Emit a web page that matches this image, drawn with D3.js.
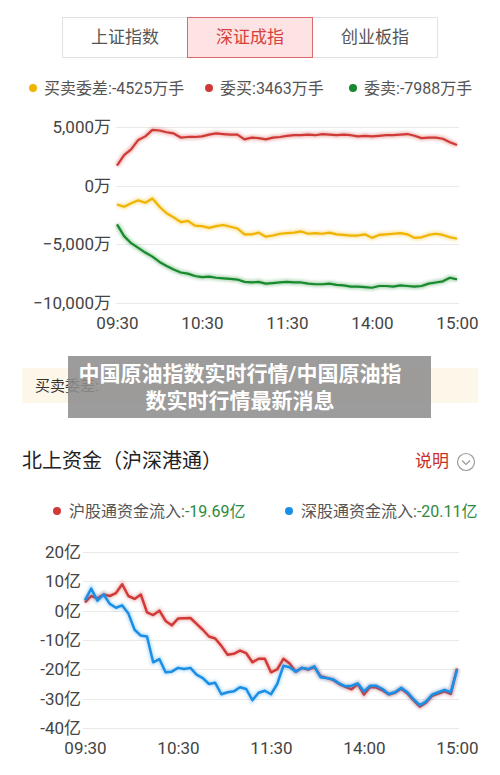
<!DOCTYPE html>
<html>
<head>
<meta charset="utf-8">
<script src="https://cdn.jsdelivr.net/npm/d3@7"></script>
<style>
  body { margin: 0; background: #fff; }
  text { font-family: Roboto, "Noto Sans CJK SC", sans-serif; }
</style>
</head>
<body>
<div id="chart"></div>
<script>
// tabs + legends
var tabNames = ["上证指数", "深证成指", "创业板指"];
var topNames = ["买卖委差", "委买", "委卖"];
var topLegendValues = ["-4525万手", "3463万手", "-7988万手"];
var topColors = ["#f0b400", "#d03a36", "#168a2c"];

var timeLabels = ["09:30", "10:30", "11:30", "14:00", "15:00"];
var tickMinutes = [0, 60, 120, 180, 240];

// top chart, one value every 5 minutes (万)
var topStep = 5;
var diffVals = [-1600,-1800,-1500,-1250,-1450,-1100,-1800,-2350,-2700,-3100,-3000,-3400,-3450,-3600,-3450,-3350,-3500,-3650,-4150,-4150,-4000,-4350,-4250,-4100,-4050,-4000,-3900,-4100,-4050,-4100,-4000,-4150,-4200,-4250,-4250,-4150,-4450,-4200,-4150,-4100,-4050,-4150,-4450,-4400,-4200,-4100,-4200,-4400,-4525];
var buyVals = [1700,2600,3100,3900,4200,4750,4700,4550,4450,4100,4150,4150,4200,4350,4450,4400,4350,4350,3950,4100,4050,3950,4100,4150,4250,4300,4300,4350,4300,4400,4350,4300,4350,4300,4200,4250,4200,4250,4300,4300,4350,4400,4250,4050,4100,4100,4000,3700,3463];
var sellVals = [-3300,-4300,-4900,-5300,-5700,-6050,-6500,-6850,-7150,-7400,-7500,-7700,-7800,-7750,-7850,-7900,-7950,-8000,-8200,-8250,-8200,-8350,-8300,-8250,-8200,-8250,-8250,-8350,-8400,-8400,-8350,-8450,-8500,-8600,-8600,-8650,-8700,-8550,-8550,-8600,-8500,-8550,-8600,-8550,-8350,-8250,-8150,-7850,-7988];
var topTicks = [5000, 0, -5000, -10000];

// bottom chart, one value every 4 minutes (亿)
var botNames = ["沪股通资金流入:", "深股通资金流入:"];
var botLegendValues = ["-19.69亿", "-20.11亿"];
var botColors = ["#d23a37", "#1a8fe6"];
var botStep = 4;
var shVals = [2.8,5.0,4.2,5.5,5.0,6.0,9.0,5.0,4.0,5.5,-0.6,-1.5,0.0,-3.5,-5.0,-2.7,-2.6,-2.5,-4.5,-6.5,-8.8,-9.5,-12.0,-15.0,-14.7,-13.6,-14.5,-17.6,-16.4,-16.4,-21.0,-20.0,-16.4,-18.0,-20.8,-19.5,-20.1,-19.2,-22.3,-22.9,-23.6,-25.0,-26.0,-26.8,-25.0,-28.6,-26.0,-26.2,-27.2,-28.6,-28.0,-26.6,-28.2,-30.6,-32.7,-31.4,-29.0,-28.3,-27.5,-28.4,-19.69];
var szVals = [3.5,7.5,3.4,5.5,2.3,1.0,1.8,-1.0,-6.5,-8.5,-8.8,-17.6,-16.5,-21.0,-20.8,-19.5,-19.9,-19.5,-21.8,-23.0,-25.0,-24.6,-28.5,-27.8,-27.5,-26.1,-26.7,-30.5,-28.0,-27.3,-28.5,-25.0,-18.8,-19.3,-20.8,-19.5,-19.9,-19.0,-22.7,-23.0,-23.4,-24.8,-25.8,-25.6,-24.8,-27.5,-25.6,-25.6,-26.7,-28.4,-27.8,-26.3,-27.8,-30.2,-32.2,-31.0,-28.6,-27.8,-27.0,-27.8,-20.11];
var botTicks = [20, 10, 0, -10, -20, -30, -40];

var svg = d3.select("#chart").append("svg")
    .attr("width", 500)
    .attr("height", 775);

var defs = svg.append("defs");
defs.append("filter").attr("id", "glow")
    .attr("x", "-5%").attr("y", "-20%").attr("width", "110%").attr("height", "140%")
  .append("feGaussianBlur").attr("stdDeviation", 1.8);

// ---- tabs ----
var tabW = 125;
svg.append("rect")
    .attr("x", 62.5).attr("y", 17.5).attr("width", tabW * 3).attr("height", 40)
    .attr("fill", "#fff").attr("stroke", "#e2e2e2");
tabNames.forEach(function (t, i) {
  var x0 = 62.5 + i * tabW;
  if (i == 1) {
    svg.append("rect")
        .attr("x", x0).attr("y", 17.5).attr("width", tabW).attr("height", 40)
        .attr("fill", "#fde3e3").attr("stroke", "#df6a6a");
  }
  svg.append("text")
      .attr("x", x0 + tabW / 2).attr("y", 43)
      .attr("text-anchor", "middle")
      .style("font-size", "17px")
      .attr("fill", i == 1 ? "#d8403c" : "#555")
      .text(t);
});

// ---- top legend ----
var topLegX = [33, 209, 353];
topNames.forEach(function (n, i) {
  svg.append("circle").attr("cx", topLegX[i]).attr("cy", 88).attr("r", 4).attr("fill", topColors[i]);
  svg.append("text").attr("x", topLegX[i] + 11).attr("y", 94)
      .style("font-size", "16px").attr("fill", "#555")
      .text(n + ":" + topLegendValues[i]);
});

// ---- top chart ----
var xTop = d3.scaleLinear().domain([0, 240]).range([117, 457]);
var yTop = d3.scaleLinear().domain([-10000, 5000]).range([303, 127]);

var gTopGrid = svg.append("g");
gTopGrid.selectAll("line").data(topTicks).enter().append("line")
    .attr("x1", 116).attr("x2", 459)
    .attr("y1", function (d) { return Math.round(yTop(d)) + 0.5; })
    .attr("y2", function (d) { return Math.round(yTop(d)) + 0.5; })
    .attr("stroke", "#e9e9e9");

var yAxisTop = svg.append("g")
    .attr("transform", "translate(111,0)")
    .call(d3.axisLeft(yTop).tickValues(topTicks).tickSize(0).tickPadding(0)
      .tickFormat(function (d) { return d3.format(",")(d) + "万"; }));
yAxisTop.select(".domain").remove();
yAxisTop.selectAll("text").style("font-size", "17px").attr("fill", "#444").style("font-family", "Roboto, 'Noto Sans CJK SC', sans-serif");

var xAxisTop = svg.append("g")
    .attr("transform", "translate(0,303)")
    .call(d3.axisBottom(xTop).tickValues(tickMinutes).tickSize(0).tickPadding(14)
      .tickFormat(function (d, i) { return timeLabels[i]; }));
xAxisTop.select(".domain").remove();
xAxisTop.selectAll("text").style("font-size", "17px").attr("fill", "#444").style("font-family", "Roboto, 'Noto Sans CJK SC', sans-serif");

var topLine = d3.line()
    .x(function (d, i) { return xTop(i * topStep); })
    .y(function (d) { return yTop(d); });

[diffVals, buyVals, sellVals].forEach(function (vals, i) {
  svg.append("path").datum(vals)
      .attr("d", topLine).attr("fill", "none")
      .attr("stroke", topColors[i]).attr("stroke-width", 5).attr("opacity", 0.35)
      .attr("filter", "url(#glow)");
  svg.append("path").datum(vals)
      .attr("d", topLine).attr("fill", "none")
      .attr("stroke", topColors[i]).attr("stroke-width", 2.2)
      .attr("stroke-linejoin", "round");
});

// ---- faded row + overlay banner ----
svg.append("rect").attr("x", 22).attr("y", 368).attr("width", 456).attr("height", 35).attr("fill", "#fdf7e9");
svg.append("text").attr("x", 35).attr("y", 391).style("font-size", "15px").attr("fill", "#333").text("买卖委差:");
svg.append("rect").attr("x", 68).attr("y", 356).attr("width", 363).attr("height", 62).attr("fill", "#8e8e8e").attr("opacity", 0.88);
var bannerLines = ["中国原油指数实时行情/中国原油指", "数实时行情最新消息"];
bannerLines.forEach(function (t, i) {
  svg.append("text").attr("x", 240).attr("y", 381 + i * 27)
      .attr("text-anchor", "middle")
      .style("font-size", "21px").style("font-weight", "bold")
      .attr("fill", "#fff").text(t);
});

// ---- bottom header ----
svg.append("text").attr("x", 22).attr("y", 468)
    .style("font-size", "20px").attr("fill", "#222").text("北上资金（沪深港通）");
svg.append("text").attr("x", 415).attr("y", 467)
    .style("font-size", "17px").attr("fill", "#c9302c").text("说明");
svg.append("circle").attr("cx", 466).attr("cy", 462).attr("r", 8.5)
    .attr("fill", "none").attr("stroke", "#9a9a9a").attr("stroke-width", 1.2);
svg.append("path").attr("d", "M462,460.5 L466,464.5 L470,460.5")
    .attr("fill", "none").attr("stroke", "#9a9a9a").attr("stroke-width", 1.2);

// ---- bottom legend ----
var botLegX = [57, 289];
botNames.forEach(function (n, i) {
  svg.append("circle").attr("cx", botLegX[i]).attr("cy", 511).attr("r", 4).attr("fill", botColors[i]);
  var t = svg.append("text").attr("x", botLegX[i] + 12).attr("y", 517).style("font-size", "16px");
  t.append("tspan").attr("fill", "#555").text(n);
  t.append("tspan").attr("fill", "#2f8a3c").text(botLegendValues[i]);
});

// ---- bottom chart ----
var xBot = d3.scaleLinear().domain([0, 240]).range([85, 457]);
var yBot = d3.scaleLinear().domain([-40, 20]).range([728, 552]);

svg.append("g").selectAll("line").data(botTicks).enter().append("line")
    .attr("x1", 83).attr("x2", 459)
    .attr("y1", function (d) { return Math.round(yBot(d)) + 0.5; })
    .attr("y2", function (d) { return Math.round(yBot(d)) + 0.5; })
    .attr("stroke", "#e9e9e9");

var yAxisBot = svg.append("g")
    .attr("transform", "translate(81,0)")
    .call(d3.axisLeft(yBot).tickValues(botTicks).tickSize(0).tickPadding(0)
      .tickFormat(function (d) { return d + "亿"; }));
yAxisBot.select(".domain").remove();
yAxisBot.selectAll("text").style("font-size", "17px").attr("fill", "#444").style("font-family", "Roboto, 'Noto Sans CJK SC', sans-serif");

var xAxisBot = svg.append("g")
    .attr("transform", "translate(0,728)")
    .call(d3.axisBottom(xBot).tickValues(tickMinutes).tickSize(0).tickPadding(14)
      .tickFormat(function (d, i) { return timeLabels[i]; }));
xAxisBot.select(".domain").remove();
xAxisBot.selectAll("text").style("font-size", "17px").attr("fill", "#444").style("font-family", "Roboto, 'Noto Sans CJK SC', sans-serif");

var botLine = d3.line()
    .x(function (d, i) { return xBot(i * botStep); })
    .y(function (d) { return yBot(d); });

[shVals, szVals].forEach(function (vals, i) {
  svg.append("path").datum(vals)
      .attr("d", botLine).attr("fill", "none")
      .attr("stroke", botColors[i]).attr("stroke-width", 5).attr("opacity", 0.3)
      .attr("filter", "url(#glow)");
  svg.append("path").datum(vals)
      .attr("d", botLine).attr("fill", "none")
      .attr("stroke", botColors[i]).attr("stroke-width", 2.5)
      .attr("stroke-linejoin", "round");
});
</script>
</body>
</html>
